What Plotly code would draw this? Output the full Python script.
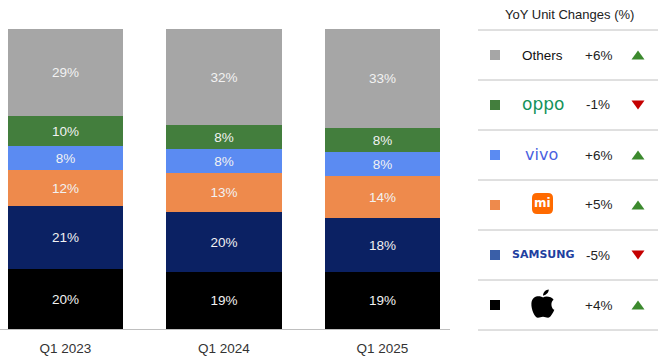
import plotly.graph_objects as go

W, H = 670, 357

quarters = ["Q1 2023", "Q1 2024", "Q1 2025"]
# stack order bottom -> top
brands = ["Apple", "Samsung", "Xiaomi", "vivo", "OPPO", "Others"]
apple = [20, 19, 19]
samsung = [21, 20, 18]
xiaomi = [12, 13, 14]
vivo = [8, 8, 8]
oppo = [10, 8, 8]
others = [29, 32, 33]
series = [apple, samsung, xiaomi, vivo, oppo, others]
colors = ["#000000", "#0B2163", "#EE8A4C", "#5B8BF2", "#437E3D", "#A6A6A6"]

# table rows (top -> bottom)
table_brands = ["Others", "OPPO", "vivo", "Xiaomi", "Samsung", "Apple"]
yoy_changes = [6, -1, 6, 5, -5, 4]
table_colors = ["#A6A6A6", "#437E3D", "#5B8BF2", "#EE8A4C", "#3A5FA8", "#000000"]


def px(x):
    return x / W


def py(y):
    return (H - y) / H


fig = go.Figure()
for name, vals, col in zip(brands, series, colors):
    fig.add_trace(go.Bar(
        x=quarters, y=vals, name=name, marker=dict(color=col, line=dict(width=0)),
        text=[f"{v}%" for v in vals], textposition="inside", insidetextanchor="middle",
        textfont=dict(family="Liberation Sans, Arial", size=13.5, color="#F2F2F2"),
        hoverinfo="skip", constraintext="none",
    ))

shapes = []
annotations = []

# table title
annotations.append(dict(x=px(569), y=py(15), xref="paper", yref="paper", text="YoY Unit Changes (%)",
                        showarrow=False, font=dict(family="Liberation Sans, Arial", size=13, color="#222222"),
                        xanchor="center", yanchor="middle"))

row0, step = 55, 50
for i, (b, ch, col) in enumerate(zip(table_brands, yoy_changes, table_colors)):
    cy = row0 + step * i
    # separator line above row
    shapes.append(dict(type="line", xref="paper", yref="paper", x0=px(478), x1=px(658),
                       y0=py(cy - 25), y1=py(cy - 25), line=dict(color="#C0C0C0", width=1)))
    # colour square
    shapes.append(dict(type="rect", xref="paper", yref="paper", x0=px(490), x1=px(500),
                       y0=py(cy - 5), y1=py(cy + 5), fillcolor=col, line=dict(width=0)))
    # percent
    annotations.append(dict(x=px(598), y=py(cy), xref="paper", yref="paper", text=f"{ch:+d}%",
                            showarrow=False, font=dict(family="Liberation Sans, Arial", size=13.5, color="#222222"),
                            xanchor="center", yanchor="middle"))
    # arrow triangle
    up = ch > 0
    tx, tw, th = 638, 6.5, 4.5
    if up:
        tri = f"M {px(tx - tw)} {py(cy + th)} L {px(tx + tw)} {py(cy + th)} L {px(tx)} {py(cy - th)} Z"
    else:
        tri = f"M {px(tx - tw)} {py(cy - th)} L {px(tx + tw)} {py(cy - th)} L {px(tx)} {py(cy + th)} Z"
    shapes.append(dict(type="path", xref="paper", yref="paper", path=tri,
                       fillcolor="#3C8A2E" if up else "#C40000", line=dict(width=0)))
    # brand label / logo
    if b == "Others":
        annotations.append(dict(x=px(542), y=py(cy), xref="paper", yref="paper", text="Others",
                                showarrow=False, font=dict(family="Liberation Sans, Arial", size=13.5, color="#111111"),
                                xanchor="center", yanchor="middle"))
    elif b == "OPPO":
        annotations.append(dict(x=px(543), y=py(cy - 1), xref="paper", yref="paper", text="oppo",
                                showarrow=False, font=dict(family="DejaVu Sans", size=17, color="#14925A"),
                                xanchor="center", yanchor="middle"))
    elif b == "vivo":
        annotations.append(dict(x=px(541), y=py(cy - 1), xref="paper", yref="paper", text="vivo",
                                showarrow=False, font=dict(family="DejaVu Sans", size=16, color="#4A5FE0"),
                                xanchor="center", yanchor="middle"))
    elif b == "Xiaomi":
        x0, x1, y0, y1, r = 532, 553, cy - 12, cy + 9, 5
        path = (f"M {px(x0 + r)} {py(y0)} L {px(x1 - r)} {py(y0)} Q {px(x1)} {py(y0)} {px(x1)} {py(y0 + r)} "
                f"L {px(x1)} {py(y1 - r)} Q {px(x1)} {py(y1)} {px(x1 - r)} {py(y1)} "
                f"L {px(x0 + r)} {py(y1)} Q {px(x0)} {py(y1)} {px(x0)} {py(y1 - r)} "
                f"L {px(x0)} {py(y0 + r)} Q {px(x0)} {py(y0)} {px(x0 + r)} {py(y0)} Z")
        shapes.append(dict(type="path", xref="paper", yref="paper", path=path, fillcolor="#FF6A00",
                           line=dict(width=0)))
        annotations.append(dict(x=px(542.5), y=py(cy - 2.5), xref="paper", yref="paper", text="<b>mi</b>",
                                showarrow=False, font=dict(family="DejaVu Sans", size=12, color="#FFFFFF"),
                                xanchor="center", yanchor="middle"))
    elif b == "Samsung":
        annotations.append(dict(x=px(543), y=py(cy - 1), xref="paper", yref="paper", text="<b>SAMSUNG</b>",
                                showarrow=False, font=dict(family="DejaVu Sans", size=11, color="#1F3FA0"),
                                xanchor="center", yanchor="middle"))
    elif b == "Apple":
        ox, oy, s = 543, cy + 0.5, 1.45

        def P(a, c):
            return f"{px(ox + a * s)} {py(oy + c * s)}"
        body = (f"M {P(0,-5.5)} C {P(-1.5,-6.8)} {P(-7.5,-7.5)} {P(-8,-1.5)} "
                f"C {P(-8.3,3)} {P(-5.5,8.5)} {P(-3.5,8.5)} "
                f"C {P(-2,8.5)} {P(-1.5,7.8)} {P(0,7.8)} "
                f"C {P(1.5,7.8)} {P(2,8.5)} {P(3.5,8.5)} "
                f"C {P(5,8.5)} {P(6.8,5.5)} {P(7.8,3)} "
                f"C {P(5.5,2)} {P(5,-2.5)} {P(7.3,-4)} "
                f"C {P(6,-6)} {P(2,-6.8)} {P(0,-5.5)} Z")
        leaf = (f"M {P(0,-6.8)} C {P(0,-9)} {P(2,-11)} {P(4,-11)} "
                f"C {P(4,-9)} {P(2,-7)} {P(0,-6.8)} Z")
        shapes.append(dict(type="path", xref="paper", yref="paper", path=body, fillcolor="#000000",
                           line=dict(width=0)))
        shapes.append(dict(type="path", xref="paper", yref="paper", path=leaf, fillcolor="#000000",
                           line=dict(width=0)))

# bottom separator line
shapes.append(dict(type="line", xref="paper", yref="paper", x0=px(478), x1=px(658),
                   y0=py(row0 + step * len(table_brands) - 25), y1=py(row0 + step * len(table_brands) - 25),
                   line=dict(color="#C0C0C0", width=1)))

fig.update_layout(
    width=W, height=H, margin=dict(l=0, r=0, t=0, b=0),
    paper_bgcolor="#FFFFFF", plot_bgcolor="#FFFFFF",
    barmode="stack", bargap=0.274, showlegend=False,
    shapes=shapes, annotations=annotations,
    xaxis=dict(domain=[0, px(450)], range=[-0.413, 2.426], showline=True, linecolor="#BFBFBF",
               linewidth=1, ticks="", showgrid=False, zeroline=False, automargin=False,
               tickfont=dict(family="Liberation Sans, Arial", size=13.5, color="#333333"),
               ticklabelstandoff=7),
    yaxis=dict(domain=[py(329), py(29)], range=[0, 100], visible=False, showgrid=False,
               zeroline=False, automargin=False),
)

fig.write_html("out.html", config={"displayModeBar": False},
               post_script="document.body.style.margin='0';document.body.style.overflow='hidden';")
